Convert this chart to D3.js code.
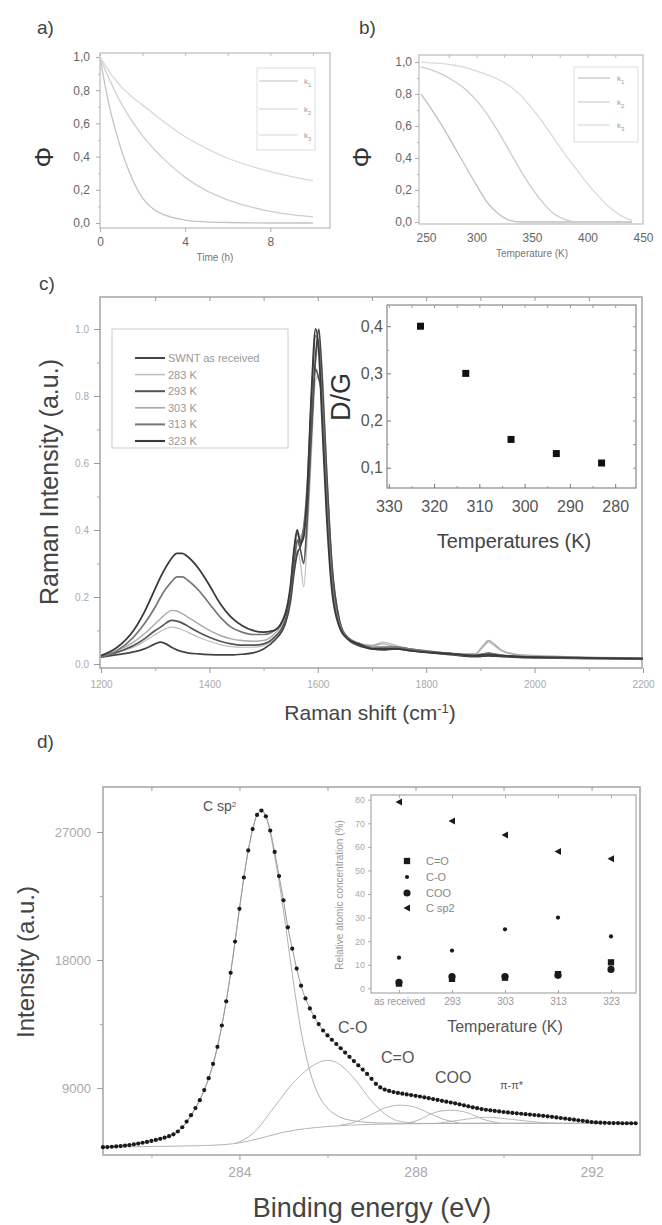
<!DOCTYPE html>
<html><head><meta charset="utf-8">
<script src="https://cdn.jsdelivr.net/npm/d3@7"></script>
<style>body{margin:0;background:#fff}svg{display:block}</style>
</head><body>
<script>
// ---------- DATA ----------
// panel a
const aTime = [0,0.25,0.5,0.75,1,1.25,1.5,2,2.5,3,4,5,6,7,8,9,10];
const aK1 = [1.0,0.82,0.67,0.55,0.44,0.35,0.27,0.15,0.085,0.05,0.018,0.007,0.003,0.001,0,0,0];
const aK2 = [1.0,0.92,0.85,0.78,0.72,0.665,0.615,0.525,0.45,0.385,0.275,0.195,0.14,0.10,0.07,0.05,0.037];
const aK3 = [1.0,0.95,0.90,0.86,0.82,0.79,0.76,0.71,0.66,0.61,0.52,0.45,0.39,0.345,0.31,0.28,0.255];
const aTicksY = [0,0.2,0.4,0.6,0.8,1.0];
const aTicksX = [0,4,8];
// panel b
const bTemp = [250,260,270,280,290,300,310,320,330,340,350,360,370,380,390,400,410,420,430,440];
const bK1 = [0.80,0.70,0.59,0.47,0.35,0.23,0.12,0.05,0.01,0,0,0,0,0,0,0,0,0,0,0];
const bK2 = [0.97,0.95,0.92,0.88,0.83,0.76,0.67,0.56,0.44,0.32,0.21,0.12,0.05,0.015,0,0,0,0,0,0];
const bK3 = [1.0,0.995,0.99,0.98,0.965,0.945,0.92,0.89,0.85,0.79,0.71,0.62,0.52,0.42,0.33,0.24,0.16,0.09,0.04,0.01];
const bTicksX = [250,300,350,400,450];
const kSubs = ["1","2","3"];
// panel c
const ramanShift = [1200,1230,1260,1280,1300,1310,1320,1330,1340,1350,1360,1380,1400,1420,1440,1460,1480,1500,1520,1540,1550,1556,1562,1568,1574,1580,1588,1596,1602,1608,1616,1626,1640,1655,1675,1700,1720,1745,1770,1800,1850,1890,1905,1915,1925,1940,1970,2020,2100,2200];
const ramanSWNT = [0.02,0.028,0.036,0.045,0.06,0.065,0.06,0.05,0.042,0.037,0.033,0.03,0.028,0.027,0.027,0.029,0.033,0.045,0.07,0.12,0.19,0.27,0.33,0.35,0.40,0.48,0.70,0.92,1.0,0.85,0.58,0.30,0.13,0.075,0.055,0.045,0.042,0.045,0.04,0.035,0.027,0.022,0.023,0.024,0.023,0.022,0.02,0.018,0.016,0.015];
const raman283 = [0.025,0.035,0.05,0.068,0.088,0.098,0.106,0.11,0.108,0.102,0.095,0.08,0.068,0.058,0.052,0.05,0.05,0.055,0.075,0.12,0.20,0.28,0.34,0.30,0.23,0.36,0.62,0.85,0.86,0.75,0.52,0.27,0.12,0.075,0.06,0.055,0.065,0.055,0.046,0.04,0.032,0.03,0.05,0.065,0.055,0.038,0.027,0.022,0.019,0.017];
const raman293 = [0.02,0.035,0.055,0.075,0.10,0.11,0.122,0.13,0.128,0.122,0.113,0.095,0.08,0.068,0.06,0.056,0.056,0.06,0.08,0.13,0.21,0.30,0.37,0.34,0.30,0.42,0.68,0.88,0.85,0.80,0.55,0.28,0.12,0.075,0.058,0.048,0.05,0.05,0.044,0.038,0.03,0.025,0.028,0.03,0.028,0.025,0.022,0.02,0.018,0.016];
const raman303 = [0.025,0.04,0.065,0.09,0.12,0.135,0.15,0.16,0.158,0.15,0.14,0.12,0.10,0.085,0.075,0.07,0.068,0.07,0.09,0.14,0.22,0.30,0.36,0.38,0.40,0.50,0.72,0.90,0.97,0.88,0.60,0.30,0.13,0.08,0.062,0.055,0.06,0.05,0.045,0.04,0.03,0.03,0.055,0.07,0.06,0.04,0.028,0.024,0.02,0.018];
const raman313 = [0.02,0.04,0.08,0.12,0.17,0.20,0.225,0.245,0.26,0.26,0.25,0.22,0.18,0.14,0.11,0.095,0.088,0.088,0.10,0.15,0.23,0.33,0.39,0.37,0.41,0.52,0.78,0.98,0.95,0.78,0.50,0.25,0.12,0.08,0.062,0.05,0.05,0.05,0.045,0.038,0.03,0.026,0.03,0.033,0.03,0.026,0.023,0.02,0.018,0.016];
const raman323 = [0.025,0.05,0.10,0.155,0.225,0.26,0.29,0.315,0.33,0.33,0.32,0.285,0.235,0.18,0.14,0.115,0.10,0.095,0.10,0.15,0.24,0.34,0.40,0.36,0.38,0.50,0.80,1.0,0.93,0.72,0.45,0.22,0.11,0.075,0.06,0.045,0.045,0.045,0.04,0.035,0.03,0.025,0.027,0.028,0.027,0.025,0.022,0.02,0.018,0.016];
const ramanNames = ["SWNT as received","283 K","293 K","303 K","313 K","323 K"];
const ramanTicksX = [1200,1400,1600,1800,2000,2200];
const ramanTicksY = [0,0.2,0.4,0.6,0.8,1.0];
// inset c
const dgTemps = [323,313,303,293,283];
const dgRatio = [0.40,0.30,0.16,0.13,0.11];
const dgTicksX = [330,320,310,300,290,280];
const dgTicksY = [0.1,0.2,0.3,0.4];
// panel d
const xpsStart = 280.9, xpsStep = 0.1;
const xpsCounts = [4850,4860,4880,4900,4930,4960,5000,5050,5100,5160,
5220,5290,5360,5440,5520,5620,5750,5950,6250,6650,
7100,7600,8150,8860,9700,10700,11900,13400,15100,17100,
19300,21600,23800,25700,27200,28200,28500,28100,27100,25600,
23900,22200,20300,18800,17400,16200,15300,14600,14000,13500,
13050,12700,12400,12100,11800,11500,11200,10900,10600,10300,
10000,9650,9300,9050,8900,8800,8720,8660,8610,8560,
8510,8460,8410,8350,8290,8230,8170,8110,8050,7990,
7930,7860,7790,7720,7650,7590,7530,7480,7440,7400,
7360,7320,7290,7260,7230,7200,7170,7140,7110,7080,
7050,7020,6980,6940,6900,6860,6820,6780,6740,6700,
6660,6620,6590,6570,6560,6550,6540,6540,6530,6530,
6530,6530];
const bgE = [280.9,282,283,283.5,284,284.5,285,285.5,286,286.5,287,288,289,290,291,292,293];
const bgV = [4850,4900,4950,5000,5150,5500,5900,6150,6300,6400,6450,6500,6520,6530,6530,6530,6530];
const sp2E = [280.9,282,282.5,283,283.5,283.8,284,284.2,284.4,284.5,284.6,284.8,285,285.2,285.4,285.6,285.8,286,286.2,286.6,287.2,288,290,293];
const sp2V = [4850,5290,5750,7600,11900,17100,21600,25700,28200,28500,28100,25300,21500,17000,13000,10200,8500,7600,7100,6700,6550,6520,6530,6530];
const coE = [283.9,284.3,284.8,285.2,285.5,285.8,286,286.2,286.6,287,287.3,287.6,288];
const coV = [5100,5800,7700,9300,10200,10800,10950,10800,9700,8100,7200,6700,6550];
const cdoE = [286.3,286.7,287,287.3,287.66,288,288.3,288.6,289];
const cdoV = [6400,6700,7150,7600,7800,7650,7250,6850,6550];
const cooE = [287.8,288.1,288.4,288.8,289.2,289.5,289.9];
const cooV = [6530,6800,7250,7450,7250,6850,6540];
const piE = [288.5,289,289.6,290.2,290.8,291.2];
const piV = [6530,6750,6950,6800,6600,6530];
const xpsTicksY = [9000,18000,27000];
const xpsTicksX = [284,288,292];
// inset d
const concCats = ["as received","293","303","313","323"];
const concCdO = [2,4,4.5,6,11];
const concCO = [13,16,25,30,22];
const concCOO = [2.5,5,5,5.5,8];
const concSp2 = [79,71,65,58,55];
const concNames = ["C=O","C-O","COO","C sp2"];
const concTicksY = [0,10,20,30,40,50,60,70,80];

// ---------- DRAW ----------
const FONT = '"Liberation Sans", Arial, Helvetica, sans-serif';
const svg = d3.select("body").append("svg").attr("width",662).attr("height",1225)
  .style("font-family",FONT);
const comma = d => d3.format(".1f")(d).replace(".",",");
const plain = d => String(d);

function frame(x0,y0,x1,y1,color,w,fill){
  svg.append("rect").attr("x",x0).attr("y",y0).attr("width",x1-x0).attr("height",y1-y0)
    .attr("fill",fill||"none").attr("stroke",color).attr("stroke-width",w);
}
function axis(gen, tx, ty, fs, color, tickColor){
  const g = svg.append("g").attr("transform",`translate(${tx},${ty})`).call(gen);
  g.select(".domain").remove();
  g.selectAll(".tick line").attr("stroke",tickColor||"#999");
  g.selectAll(".tick text").attr("font-family",FONT).attr("font-size",fs).attr("fill",color);
  return g;
}
function txt(x,y,s,fs,color,anchor,rot){
  const t = svg.append("text").attr("font-size",fs).attr("fill",color).attr("text-anchor",anchor||"start");
  if(rot) t.attr("transform",`translate(${x},${y}) rotate(${rot})`);
  else t.attr("x",x).attr("y",y);
  t.text(s);
  return t;
}
function seriesLine(xs, ys, sx, sy, color, w, curve){
  svg.append("path").datum(xs.map((x,i)=>[x,ys[i]]))
    .attr("fill","none").attr("stroke",color).attr("stroke-width",w)
    .attr("d", d3.line().x(d=>sx(d[0])).y(d=>sy(d[1])).curve(curve||d3.curveMonotoneX));
}

// panel labels
txt(37,34,"a)",19,"#444");
txt(359,34,"b)",19,"#444");
txt(39,290,"c)",19,"#444");
txt(37,748,"d)",19,"#444");

// ---- panel a ----
{
  const x = d3.scaleLinear([0,10.8],[100,330]);
  const y = d3.scaleLinear([-0.03,1.024],[228,53]);
  frame(100,53,330,228,"#bbb",1.2);
  axis(d3.axisLeft(y).tickValues(aTicksY).tickSize(4).tickPadding(6).tickFormat(comma),100,0,12,"#666","#aaa");
  axis(d3.axisLeft(y).tickValues([0.1,0.3,0.5,0.7,0.9]).tickSize(2).tickFormat(""),100,0,12,"#666","#bbb");
  axis(d3.axisBottom(x).tickValues(aTicksX).tickSize(4).tickPadding(5).tickFormat(plain),0,228,12,"#666","#aaa");
  axis(d3.axisBottom(x).tickValues([0,2,4,6,8,10]).tickSize(3).tickFormat(""),0,53,12,"#666","#bbb");
  txt(215,261,"Time (h)",10,"#777","middle");
  txt(44,157,"Φ",26,"#333","middle",-90).attr("dy","0.35em");
  seriesLine(aTime,aK1,x,y,"#c4c4c4",1.3);
  seriesLine(aTime,aK2,x,y,"#cfcfcf",1.3);
  seriesLine(aTime,aK3,x,y,"#d8d8d8",1.3);
  frame(257,68,315,150,"#ddd",1);
  const cols=["#c4c4c4","#cfcfcf","#d8d8d8"];
  [81,109,135].forEach((yy,i)=>{
    svg.append("line").attr("x1",259).attr("x2",298).attr("y1",yy).attr("y2",yy).attr("stroke",cols[i]).attr("stroke-width",1.2);
    const t = txt(304,yy+3,"k",8,"#999");
    t.append("tspan").attr("baseline-shift","sub").attr("font-size",6).text(kSubs[i]);
  });
}
// ---- panel b ----
{
  const x = d3.scaleLinear([250,450],[421,643]);
  const y = d3.scaleLinear([-0.0125,1.044],[224,55]);
  frame(419,55,643,224,"#bbb",1.2);
  axis(d3.axisLeft(y).tickValues(aTicksY).tickSize(4).tickPadding(3).tickFormat(comma),419,0,12,"#666","#aaa");
  axis(d3.axisLeft(y).tickValues([0.1,0.3,0.5,0.7,0.9]).tickSize(2).tickFormat(""),419,0,12,"#666","#bbb");
  const bx = axis(d3.axisBottom(x).tickValues(bTicksX).tickSize(0).tickPadding(9).tickFormat(plain),0,224,12,"#666","#aaa");
  bx.selectAll(".tick text").filter(d=>d===250).attr("dx",5);
  axis(d3.axisBottom(x).tickValues([275,300,325,350,375,400,425]).tickSize(3).tickFormat(""),0,55,12,"#666","#bbb");
  txt(532,257,"Temperature (K)",10,"#777","middle");
  txt(362,157,"Φ",26,"#333","middle",-90).attr("dy","0.35em");
  seriesLine(bTemp,bK1,x,y,"#c0c0c0",1.3);
  seriesLine(bTemp,bK2,x,y,"#cdcdcd",1.3);
  seriesLine(bTemp,bK3,x,y,"#dadada",1.3);
  frame(574,67,638,142,"#ddd",1);
  const cols=["#c0c0c0","#cdcdcd","#dadada"];
  [78,102,125].forEach((yy,i)=>{
    svg.append("line").attr("x1",578).attr("x2",610).attr("y1",yy).attr("y2",yy).attr("stroke",cols[i]).attr("stroke-width",1.2);
    const t = txt(617,yy+3,"k",8,"#999");
    t.append("tspan").attr("baseline-shift","sub").attr("font-size",6).text(kSubs[i]);
  });
}
// ---- panel c ----
{
  const x = d3.scaleLinear([1200,2200],[101,643]);
  const y = d3.scaleLinear([-0.012,1.0955],[668,297]);
  frame(100,297,642,668,"#aaa",1.6);
  axis(d3.axisLeft(y).tickValues(ramanTicksY).tickSize(6).tickPadding(5).tickFormat(d3.format(".1f")),100,0,10,"#aaa","#999");
  axis(d3.axisLeft(y).tickValues([0.1,0.3,0.5,0.7,0.9]).tickSize(3).tickFormat(""),100,0,10,"#aaa","#aaa");
  axis(d3.axisBottom(x).tickValues(ramanTicksX).tickSize(5).tickPadding(8).tickFormat(plain),0,668,10,"#aaa","#999");
  axis(d3.axisBottom(x).tickValues([1300,1500,1700,1900,2100]).tickSize(3).tickFormat(""),0,668,10,"#aaa","#aaa");
  axis(d3.axisBottom(x).tickValues(d3.range(1300,2200,100)).tickSize(4).tickFormat(""),0,297,10,"#aaa","#999");
  txt(58,482,"Raman Intensity (a.u.)",25,"#444","middle",-90);
  const t = txt(370,720,"Raman shift (cm",21,"#444","middle");
  t.append("tspan").attr("baseline-shift","super").attr("font-size",13).text("-1");
  t.append("tspan").text(")");
  const series=[ramanSWNT,raman283,raman293,raman303,raman313,raman323];
  const cols=["#444","#bdbdbd","#555","#aaa","#777","#3a3a3a"];
  const ws=[1.7,1.2,1.7,1.4,1.7,1.8];
  [1,3,0,2,4,5].forEach(i=>seriesLine(ramanShift,series[i],x,y,cols[i],ws[i]));
  // legend
  frame(112,329,288,448,"#ccc",1,"#fff");
  ramanNames.forEach((n,i)=>{
    const yy = 358 + i*16.6;
    svg.append("line").attr("x1",135).attr("x2",165).attr("y1",yy).attr("y2",yy).attr("stroke",cols[i]).attr("stroke-width",ws[i]+0.3);
    txt(168,yy+4,n,11,"#999");
  });
  // inset
  const xi = d3.scaleLinear([330.4,275.4],[387,636]);
  const yi = d3.scaleLinear([0.057,0.445],[488,305]);
  frame(387,305,636,488,"#888",1.2,"#fff");
  axis(d3.axisLeft(yi).tickValues(dgTicksY).tickSizeInner(-4).tickSizeOuter(0).tickPadding(4).tickFormat(comma),387,0,16,"#555","#777");
  axis(d3.axisLeft(yi).tickValues([0.15,0.25,0.35]).tickSizeInner(-2).tickFormat(""),387,0,16,"#555","#999");
  axis(d3.axisRight(yi).tickValues([0.1,0.15,0.2,0.25,0.3,0.35,0.4]).tickSizeInner(-3).tickFormat(""),636,0,16,"#555","#999");
  axis(d3.axisBottom(xi).tickValues(dgTicksX).tickSizeInner(-4).tickSizeOuter(0).tickPadding(13).tickFormat(plain),0,488,16,"#555","#777");
  axis(d3.axisBottom(xi).tickValues([325,315,305,295,285]).tickSizeInner(-2).tickFormat(""),0,488,16,"#555","#999");
  axis(d3.axisTop(xi).tickValues([330,325,320,315,310,305,300,295,290,285,280]).tickSizeInner(-3).tickFormat(""),0,305,16,"#555","#999");
  txt(514,548,"Temperatures (K)",20,"#444","middle");
  txt(350,397,"D/G",27,"#333","middle",-90);
  svg.append("g").selectAll("rect").data(dgTemps).join("rect")
    .attr("x",(d,i)=>xi(d)-3.5).attr("y",(d,i)=>yi(dgRatio[i])-3.5)
    .attr("width",7).attr("height",7).attr("fill","#111");
}
// ---- panel d ----
{
  const x = d3.scaleLinear([280.9,293.1],[103,640]);
  const y = d3.scaleLinear([4300,30160],[1155,787]);
  frame(103,787,640,1155,"#aaa",1.6);
  axis(d3.axisLeft(y).tickValues(xpsTicksY).tickSize(6).tickPadding(6).tickFormat(plain),103,0,13,"#aaa","#999");
  axis(d3.axisLeft(y).tickValues([13500,22500]).tickSize(3).tickFormat(""),103,0,13,"#aaa","#aaa");
  axis(d3.axisBottom(x).tickValues(xpsTicksX).tickSize(5).tickPadding(7).tickFormat(plain),0,1155,14,"#aaa","#999");
  axis(d3.axisBottom(x).tickValues([282,286,290]).tickSize(3).tickFormat(""),0,1155,14,"#aaa","#aaa");
  axis(d3.axisBottom(x).tickValues([282,284,286,288,290,292]).tickSize(4).tickFormat(""),0,787,14,"#aaa","#999");
  txt(34,962,"Intensity (a.u.)",24,"#444","middle",-90);
  txt(372,1217,"Binding energy (eV)",27,"#444","middle");
  // components
  seriesLine(bgE,bgV,x,y,"#b5b5b5",1);
  seriesLine(sp2E,sp2V,x,y,"#b0b0b0",1);
  seriesLine(coE,coV,x,y,"#b5b5b5",1);
  seriesLine(cdoE,cdoV,x,y,"#b5b5b5",1);
  seriesLine(cooE,cooV,x,y,"#b5b5b5",1);
  seriesLine(piE,piV,x,y,"#bbb",1);
  const xpsE = xpsCounts.map((v,i)=>+(xpsStart+i*xpsStep).toFixed(1));
  seriesLine(xpsE,xpsCounts,x,y,"#999",1);
  svg.append("g").selectAll("circle").data(xpsCounts).join("circle")
    .attr("cx",(d,i)=>x(xpsE[i])).attr("cy",d=>y(d)).attr("r",2.1).attr("fill","#1a1a1a");
  const l = txt(203,811,"C sp",14,"#555");
  l.append("tspan").attr("baseline-shift","super").attr("font-size",8).text("2");
  txt(338,1033,"C-O",16,"#555");
  txt(381,1063,"C=O",16,"#555");
  txt(435,1083,"COO",16,"#555");
  txt(500,1089,"π-π*",11,"#555");
  // inset
  const xi = d3.scalePoint(concCats,[399,611]);
  const yi = d3.scaleLinear([-2,82],[993,795]);
  frame(371,795,636,993,"#aaa",1.2,"#fff");
  axis(d3.axisLeft(yi).tickValues(concTicksY).tickSize(3).tickPadding(3).tickFormat(plain),371,0,9,"#aaa","#aaa");
  axis(d3.axisBottom(xi).tickSizeInner(-3).tickSizeOuter(0).tickPadding(5),0,993,10,"#999","#aaa");
  axis(d3.axisTop(xi).tickSizeInner(-3).tickSizeOuter(0).tickFormat(""),0,795,10,"#999","#aaa");
  txt(343,895,"Relative atomic concentration (%)",10,"#999","middle",-90);
  txt(505,1032,"Temperature (K)",16,"#555","middle");
  const symSq = d3.symbol().type(d3.symbolSquare).size(40);
  const symCircS = d3.symbol().type(d3.symbolCircle).size(14);
  const symCircL = d3.symbol().type(d3.symbolCircle).size(40);
  const triLeft = "M-3.5,0L3,-3.5L3,3.5Z";
  const groups = [
    {vals:concCdO, path:symSq()},
    {vals:concCO, path:symCircS()},
    {vals:concCOO, path:symCircL()},
    {vals:concSp2, path:triLeft}
  ];
  groups.forEach(gp=>{
    svg.append("g").selectAll("path").data(concCats).join("path")
      .attr("d",gp.path).attr("fill","#1a1a1a")
      .attr("transform",(c,i)=>`translate(${xi(c)},${yi(gp.vals[i])})`);
  });
  [861,877,893,908].forEach((yy,i)=>{
    svg.append("path").attr("d",groups[i].path).attr("fill","#1a1a1a").attr("transform",`translate(407,${yy})`);
    txt(426,yy+4,concNames[i],11,"#888");
  });
}
</script>
</body></html>
